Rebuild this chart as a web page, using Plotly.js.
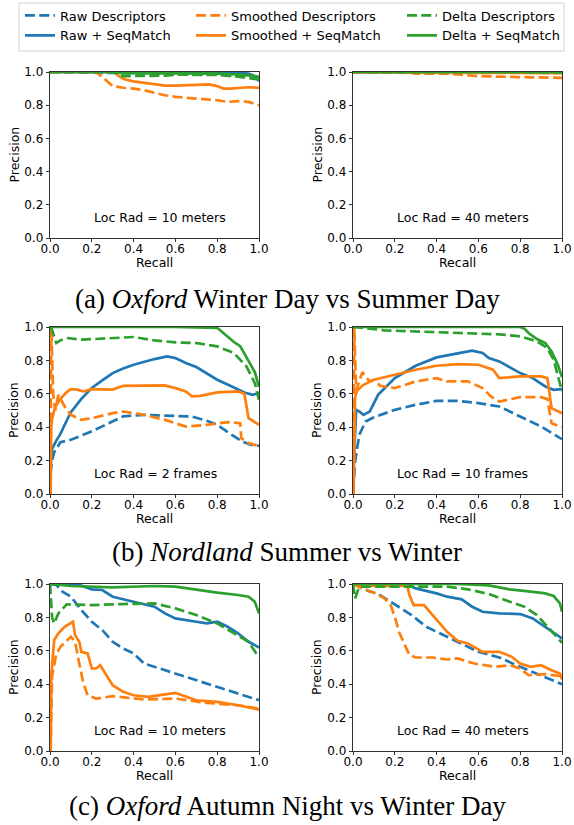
<!DOCTYPE html>
<html>
<head>
<meta charset="utf-8">
<script src="https://cdn.plot.ly/plotly-3.0.1.min.js"></script>
<style>html,body{margin:0;padding:0;background:#fff;}#chart{width:574px;height:825px;}</style>
</head>
<body>
<div id="chart"></div>
<script>
// ---------- labels ----------
const seriesNames = ['Raw Descriptors', 'Raw + SeqMatch', 'Smoothed Descriptors', 'Smoothed + SeqMatch', 'Delta Descriptors', 'Delta + SeqMatch'];
const tickVals = [0, 0.2, 0.4, 0.6, 0.8, 1.0];
const tickText = ['0.0', '0.2', '0.4', '0.6', '0.8', '1.0'];
const panelLabels = ['Loc Rad = 10 meters', 'Loc Rad = 40 meters', 'Loc Rad = 2 frames', 'Loc Rad = 10 frames', 'Loc Rad = 10 meters', 'Loc Rad = 40 meters'];
const captions = ['(a) <i>Oxford</i> Winter Day vs Summer Day', '(b) <i>Nordland</i> Summer vs Winter', '(c) <i>Oxford</i> Autumn Night vs Winter Day'];

// ---------- (a) left: Oxford Winter Day vs Summer Day, 10 m ----------
const aL_rawDesc_r = [0, 0.3, 0.6, 0.8, 0.9, 1.0];
const aL_rawDesc_p = [1, 0.995, 0.99, 0.985, 0.98, 0.97];
const aL_rawSM_r = [0, 0.5, 0.8, 0.9, 0.95, 0.98, 1.0];
const aL_rawSM_p = [1, 1, 0.998, 0.995, 0.99, 0.975, 0.945];
const aL_smDesc_r = [0, 0.22, 0.25, 0.28, 0.3, 0.35, 0.4, 0.45, 0.5, 0.55, 0.6, 0.7, 0.8, 0.85, 0.9, 0.95, 1.0];
const aL_smDesc_p = [1, 1, 0.97, 0.935, 0.915, 0.905, 0.9, 0.89, 0.875, 0.86, 0.85, 0.84, 0.83, 0.82, 0.825, 0.82, 0.80];
const aL_smSM_r = [0, 0.31, 0.33, 0.36, 0.4, 0.45, 0.5, 0.55, 0.6, 0.7, 0.76, 0.8, 0.83, 0.86, 0.9, 0.95, 1.0];
const aL_smSM_p = [1, 1, 0.975, 0.955, 0.944, 0.935, 0.925, 0.918, 0.918, 0.92, 0.925, 0.915, 0.9, 0.9, 0.905, 0.908, 0.905];
const aL_deltaDesc_r = [0, 0.3, 0.35, 0.45, 0.55, 0.6, 0.8, 0.9, 0.95, 1.0];
const aL_deltaDesc_p = [1, 1, 0.975, 0.975, 0.978, 0.984, 0.982, 0.972, 0.965, 0.955];
const aL_deltaSM_r = [0, 0.3, 0.35, 0.6, 0.8, 0.9, 0.95, 1.0];
const aL_deltaSM_p = [1, 1, 0.993, 0.992, 0.99, 0.985, 0.98, 0.97];

// ---------- (a) right: 40 m ----------
const aR_rawDesc_r = [0, 0.5, 1.0];
const aR_rawDesc_p = [1, 0.998, 0.995];
const aR_rawSM_r = [0, 1.0];
const aR_rawSM_p = [1, 1];
const aR_smDesc_r = [0, 0.25, 0.3, 0.45, 0.5, 0.55, 0.6, 0.7, 0.8, 0.85, 0.9, 0.95, 1.0];
const aR_smDesc_p = [1, 1, 0.99, 0.99, 0.985, 0.978, 0.975, 0.972, 0.97, 0.968, 0.97, 0.97, 0.965];
const aR_smSM_r = [0, 0.5, 1.0];
const aR_smSM_p = [0.997, 0.995, 0.993];
const aR_deltaDesc_r = [0, 0.5, 1.0];
const aR_deltaDesc_p = [1, 0.999, 0.998];
const aR_deltaSM_r = [0, 1.0];
const aR_deltaSM_p = [1, 1];

// ---------- (b) left: Nordland, 2 frames ----------
const bL_rawDesc_r = [0.002, 0.01, 0.02, 0.05, 0.1, 0.15, 0.2, 0.25, 0.3, 0.35, 0.45, 0.55, 0.6, 0.68, 0.75, 0.8, 0.87, 0.92, 0.96, 1.0];
const bL_rawDesc_p = [0.12, 0.2, 0.25, 0.31, 0.325, 0.35, 0.375, 0.405, 0.434, 0.465, 0.474, 0.47, 0.468, 0.464, 0.438, 0.414, 0.354, 0.314, 0.295, 0.288];
const bL_rawSM_r = [0.002, 0.01, 0.03, 0.05, 0.08, 0.1, 0.15, 0.2, 0.25, 0.3, 0.35, 0.4, 0.5, 0.56, 0.6, 0.65, 0.7, 0.75, 0.8, 0.87, 0.93, 0.97, 1.0];
const bL_rawSM_p = [0.15, 0.27, 0.32, 0.36, 0.44, 0.49, 0.57, 0.635, 0.68, 0.724, 0.752, 0.774, 0.808, 0.824, 0.814, 0.784, 0.76, 0.72, 0.684, 0.644, 0.608, 0.594, 0.604];
const bL_smDesc_r = [0.002, 0.006, 0.015, 0.025, 0.04, 0.07, 0.1, 0.15, 0.2, 0.3, 0.35, 0.45, 0.55, 0.6, 0.65, 0.75, 0.85, 0.91, 0.915, 0.95, 1.0];
const bL_smDesc_p = [0.0, 1.0, 0.6, 0.5, 0.594, 0.524, 0.474, 0.444, 0.454, 0.484, 0.494, 0.474, 0.444, 0.424, 0.404, 0.414, 0.43, 0.424, 0.334, 0.304, 0.288];
const bL_smSM_r = [0.003, 0.006, 0.01, 0.02, 0.03, 0.05, 0.08, 0.1, 0.13, 0.16, 0.2, 0.25, 0.3, 0.35, 0.45, 0.5, 0.55, 0.6, 0.65, 0.68, 0.72, 0.8, 0.9, 0.93, 0.95, 1.0];
const bL_smSM_p = [0.0, 0.4, 0.45, 0.5, 0.53, 0.57, 0.61, 0.628, 0.625, 0.614, 0.628, 0.625, 0.625, 0.648, 0.65, 0.648, 0.65, 0.634, 0.614, 0.584, 0.588, 0.608, 0.614, 0.6, 0.454, 0.414];
const bL_deltaDesc_r = [0.005, 0.01, 0.02, 0.03, 0.05, 0.08, 0.15, 0.3, 0.4, 0.5, 0.6, 0.7, 0.8, 0.88, 0.94, 0.98, 1.0];
const bL_deltaDesc_p = [1.0, 0.98, 0.93, 0.904, 0.92, 0.934, 0.924, 0.936, 0.94, 0.92, 0.908, 0.904, 0.884, 0.844, 0.764, 0.664, 0.564];
const bL_deltaSM_r = [0, 0.6, 0.8, 0.84, 0.88, 0.91, 0.95, 0.98, 1.0];
const bL_deltaSM_p = [1, 1, 0.995, 0.95, 0.91, 0.885, 0.8, 0.73, 0.64];

// ---------- (b) right: 10 frames ----------
const bR_rawDesc_r = [0.005, 0.01, 0.03, 0.06, 0.1, 0.2, 0.3, 0.4, 0.5, 0.6, 0.7, 0.8, 0.9, 1.0];
const bR_rawDesc_p = [0.1, 0.194, 0.354, 0.434, 0.46, 0.504, 0.534, 0.558, 0.558, 0.544, 0.524, 0.464, 0.404, 0.328];
const bR_rawSM_r = [0.004, 0.008, 0.015, 0.03, 0.05, 0.08, 0.12, 0.2, 0.3, 0.4, 0.5, 0.57, 0.62, 0.65, 0.7, 0.8, 0.86, 0.92, 0.96, 1.0];
const bR_rawSM_p = [0.19, 0.35, 0.504, 0.494, 0.474, 0.494, 0.594, 0.694, 0.768, 0.818, 0.844, 0.858, 0.844, 0.814, 0.794, 0.724, 0.694, 0.644, 0.624, 0.628];
const bR_smDesc_r = [0.003, 0.006, 0.015, 0.03, 0.045, 0.06, 0.08, 0.1, 0.13, 0.2, 0.3, 0.4, 0.45, 0.55, 0.62, 0.66, 0.7, 0.8, 0.9, 0.93, 0.95, 1.0];
const bR_smDesc_p = [0.0, 1.0, 0.62, 0.68, 0.73, 0.704, 0.674, 0.684, 0.648, 0.634, 0.674, 0.694, 0.674, 0.674, 0.634, 0.584, 0.554, 0.58, 0.58, 0.568, 0.424, 0.40];
const bR_smSM_r = [0.003, 0.006, 0.01, 0.02, 0.05, 0.1, 0.2, 0.3, 0.4, 0.5, 0.6, 0.67, 0.7, 0.8, 0.9, 0.93, 0.95, 1.0];
const bR_smSM_p = [0.0, 0.5, 0.58, 0.62, 0.654, 0.684, 0.714, 0.744, 0.768, 0.778, 0.774, 0.744, 0.694, 0.704, 0.704, 0.694, 0.514, 0.484];
const bR_deltaDesc_r = [0, 0.05, 0.15, 0.3, 0.5, 0.7, 0.8, 0.88, 0.93, 0.96, 1.0];
const bR_deltaDesc_p = [1.0, 0.995, 0.98, 0.974, 0.968, 0.956, 0.944, 0.914, 0.874, 0.804, 0.614];
const bR_deltaSM_r = [0, 0.8, 0.82, 0.84, 0.88, 0.92, 0.95, 0.98, 1.0];
const bR_deltaSM_p = [1, 1, 0.99, 0.964, 0.928, 0.904, 0.854, 0.774, 0.70];

// ---------- (c) left: Oxford Autumn Night vs Winter Day, 10 m ----------
const cL_rawDesc_r = [0, 0.03, 0.06, 0.1, 0.15, 0.2, 0.25, 0.3, 0.35, 0.4, 0.45, 0.5, 0.6, 0.7, 0.8, 0.9, 1.0];
const cL_rawDesc_p = [1, 0.995, 0.954, 0.924, 0.844, 0.774, 0.724, 0.654, 0.614, 0.584, 0.524, 0.504, 0.464, 0.424, 0.384, 0.344, 0.304];
const cL_rawSM_r = [0, 0.1, 0.15, 0.2, 0.25, 0.3, 0.4, 0.5, 0.55, 0.6, 0.7, 0.75, 0.8, 0.85, 0.9, 0.95, 1.0];
const cL_rawSM_p = [1, 1, 0.99, 0.968, 0.964, 0.924, 0.894, 0.864, 0.824, 0.794, 0.774, 0.764, 0.774, 0.744, 0.704, 0.654, 0.62];
const cL_smDesc_r = [0.003, 0.01, 0.03, 0.05, 0.1, 0.12, 0.14, 0.16, 0.18, 0.22, 0.3, 0.45, 0.6, 0.75, 0.9, 1.0];
const cL_smDesc_p = [0.0, 0.45, 0.58, 0.624, 0.684, 0.654, 0.524, 0.404, 0.334, 0.314, 0.328, 0.308, 0.314, 0.288, 0.274, 0.254];
const cL_smSM_r = [0.003, 0.006, 0.02, 0.04, 0.07, 0.1, 0.11, 0.12, 0.14, 0.15, 0.18, 0.2, 0.22, 0.24, 0.26, 0.3, 0.35, 0.4, 0.47, 0.55, 0.6, 0.7, 0.8, 0.9, 1.0];
const cL_smSM_p = [0.0, 0.45, 0.664, 0.704, 0.744, 0.764, 0.774, 0.694, 0.654, 0.594, 0.584, 0.494, 0.494, 0.514, 0.474, 0.394, 0.354, 0.334, 0.324, 0.34, 0.348, 0.304, 0.294, 0.274, 0.248];
const cL_deltaDesc_r = [0, 0.01, 0.02, 0.04, 0.08, 0.2, 0.35, 0.5, 0.6, 0.7, 0.8, 0.9, 0.95, 1.0];
const cL_deltaDesc_p = [1.0, 0.8, 0.764, 0.824, 0.878, 0.874, 0.88, 0.884, 0.854, 0.814, 0.764, 0.694, 0.654, 0.56];
const cL_deltaSM_r = [0, 0.1, 0.3, 0.5, 0.6, 0.7, 0.8, 0.9, 0.95, 0.98, 1.0];
const cL_deltaSM_p = [1, 0.988, 0.98, 0.988, 0.984, 0.964, 0.948, 0.934, 0.924, 0.894, 0.824];

// ---------- (c) right: 40 m ----------
const cR_rawDesc_r = [0, 0.03, 0.07, 0.12, 0.18, 0.22, 0.28, 0.35, 0.42, 0.5, 0.6, 0.7, 0.8, 0.9, 1.0];
const cR_rawDesc_p = [1, 0.994, 0.96, 0.94, 0.894, 0.86, 0.814, 0.744, 0.704, 0.654, 0.594, 0.56, 0.504, 0.454, 0.40];
const cR_rawSM_r = [0, 0.25, 0.3, 0.4, 0.45, 0.52, 0.57, 0.62, 0.7, 0.8, 0.86, 0.9, 0.95, 1.0];
const cR_rawSM_p = [1, 1, 0.974, 0.944, 0.924, 0.908, 0.864, 0.834, 0.824, 0.82, 0.794, 0.76, 0.714, 0.674];
const cR_smDesc_r = [0, 0.03, 0.1, 0.15, 0.18, 0.2, 0.22, 0.25, 0.27, 0.3, 0.38, 0.45, 0.5, 0.58, 0.68, 0.75, 0.8, 0.84, 0.92, 1.0];
const cR_smDesc_p = [1, 0.98, 0.948, 0.914, 0.874, 0.804, 0.714, 0.624, 0.574, 0.56, 0.56, 0.548, 0.554, 0.524, 0.504, 0.514, 0.494, 0.454, 0.46, 0.448];
const cR_smSM_r = [0, 0.05, 0.15, 0.26, 0.27, 0.29, 0.34, 0.38, 0.42, 0.45, 0.5, 0.55, 0.62, 0.7, 0.76, 0.8, 0.85, 0.9, 0.95, 0.99, 1.0];
const cR_smSM_p = [1, 0.99, 0.988, 0.99, 0.934, 0.874, 0.874, 0.814, 0.754, 0.714, 0.66, 0.644, 0.594, 0.594, 0.564, 0.524, 0.504, 0.514, 0.484, 0.464, 0.43];
const cR_deltaDesc_r = [0, 0.01, 0.03, 0.45, 0.55, 0.65, 0.75, 0.82, 0.88, 0.93, 0.97, 1.0];
const cR_deltaDesc_p = [1.0, 0.914, 0.984, 0.984, 0.968, 0.94, 0.894, 0.864, 0.814, 0.744, 0.684, 0.648];
const cR_deltaSM_r = [0, 0.5, 0.65, 0.75, 0.85, 0.92, 0.96, 0.99, 1.0];
const cR_deltaSM_p = [1, 1, 0.992, 0.968, 0.954, 0.944, 0.928, 0.884, 0.834];

// ---------- build ----------
const W = 574, H = 825;
const px = v => v / W;
const py = v => 1 - v / H;

const colors = ['#1f77b4', '#1f77b4', '#ff7f0e', '#ff7f0e', '#2ca02c', '#2ca02c'];
const dashes = ['10px,4.3px', 'solid', '10px,4.3px', 'solid', '10px,4.3px', 'solid'];
const legendIds = ['legend', 'legend', 'legend2', 'legend2', 'legend3', 'legend3'];

const panelSeries = [
  [[aL_rawDesc_r, aL_rawDesc_p], [aL_rawSM_r, aL_rawSM_p], [aL_smDesc_r, aL_smDesc_p], [aL_smSM_r, aL_smSM_p], [aL_deltaDesc_r, aL_deltaDesc_p], [aL_deltaSM_r, aL_deltaSM_p]],
  [[aR_rawDesc_r, aR_rawDesc_p], [aR_rawSM_r, aR_rawSM_p], [aR_smDesc_r, aR_smDesc_p], [aR_smSM_r, aR_smSM_p], [aR_deltaDesc_r, aR_deltaDesc_p], [aR_deltaSM_r, aR_deltaSM_p]],
  [[bL_rawDesc_r, bL_rawDesc_p], [bL_rawSM_r, bL_rawSM_p], [bL_smDesc_r, bL_smDesc_p], [bL_smSM_r, bL_smSM_p], [bL_deltaDesc_r, bL_deltaDesc_p], [bL_deltaSM_r, bL_deltaSM_p]],
  [[bR_rawDesc_r, bR_rawDesc_p], [bR_rawSM_r, bR_rawSM_p], [bR_smDesc_r, bR_smDesc_p], [bR_smSM_r, bR_smSM_p], [bR_deltaDesc_r, bR_deltaDesc_p], [bR_deltaSM_r, bR_deltaSM_p]],
  [[cL_rawDesc_r, cL_rawDesc_p], [cL_rawSM_r, cL_rawSM_p], [cL_smDesc_r, cL_smDesc_p], [cL_smSM_r, cL_smSM_p], [cL_deltaDesc_r, cL_deltaDesc_p], [cL_deltaSM_r, cL_deltaSM_p]],
  [[cR_rawDesc_r, cR_rawDesc_p], [cR_rawSM_r, cR_rawSM_p], [cR_smDesc_r, cR_smDesc_p], [cR_smSM_r, cR_smSM_p], [cR_deltaDesc_r, cR_deltaDesc_p], [cR_deltaSM_r, cR_deltaSM_p]]
];

// plot-area pixel boxes (left, right, top, bottom)
const colX = [[50, 259], [353, 562]];
const rowY = [[72, 238], [327, 494], [584, 751]];

const traces = [];
const layout = {
  width: W, height: H,
  margin: {l: 0, r: 0, t: 0, b: 0},
  paper_bgcolor: '#ffffff', plot_bgcolor: '#ffffff',
  font: {family: 'DejaVu Sans', size: 12, color: '#000000'},
  showlegend: true,
  annotations: [], shapes: []
};

const baseAxis = {
  range: [0, 1], tickmode: 'array', tickvals: tickVals, ticktext: tickText,
  ticks: 'outside', ticklen: 3.5, tickwidth: 0.8, tickcolor: '#000',
  showline: true, mirror: true, linecolor: '#000', linewidth: 0.8,
  showgrid: false, zeroline: false, fixedrange: true,
  tickfont: {family: 'DejaVu Sans', size: 12, color: '#000'}
};

for (let k = 0; k < 6; k++) {
  const row = Math.floor(k / 2), col = k % 2;
  const n = k + 1;
  const xa = 'xaxis' + (n === 1 ? '' : n), ya = 'yaxis' + (n === 1 ? '' : n);
  const xr = 'x' + (n === 1 ? '' : n), yr = 'y' + (n === 1 ? '' : n);
  layout[xa] = Object.assign({}, baseAxis, {domain: [px(colX[col][0]), px(colX[col][1])], anchor: yr, ticklabelstandoff: -4});
  layout[ya] = Object.assign({}, baseAxis, {domain: [py(rowY[row][1]), py(rowY[row][0])], anchor: xr});

  panelSeries[k].forEach((s, i) => {
    traces.push({
      type: 'scatter', mode: 'lines', x: s[0], y: s[1],
      xaxis: xr, yaxis: yr, name: seriesNames[i],
      line: {color: colors[i], width: 2.7, dash: dashes[i]},
      showlegend: k === 0, legend: legendIds[i], hoverinfo: 'skip'
    });
  });

  // in-panel label
  layout.annotations.push({
    xref: xr, yref: yr, x: 0.2, y: 0.125, xanchor: 'left', yanchor: 'middle',
    text: panelLabels[k], showarrow: false, font: {family: 'DejaVu Sans', size: 12.5, color: '#000'}
  });
  // axis titles
  const cx = (colX[col][0] + colX[col][1]) / 2;
  const cy = (rowY[row][0] + rowY[row][1]) / 2;
  layout.annotations.push({
    xref: 'paper', yref: 'paper', x: px(cx), y: py(rowY[row][1] + 24.5), xanchor: 'center', yanchor: 'middle',
    text: 'Recall', showarrow: false, font: {family: 'DejaVu Sans', size: 12.5, color: '#000'}
  });
  layout.annotations.push({
    xref: 'paper', yref: 'paper', x: px(colX[col][0] - 36.5), y: py(cy), xanchor: 'center', yanchor: 'middle',
    text: 'Precision', textangle: -90, showarrow: false, font: {family: 'DejaVu Sans', size: 12.5, color: '#000'}
  });
}

// captions
const captionY = [299, 552, 806];
captions.forEach((c, i) => {
  layout.annotations.push({
    xref: 'paper', yref: 'paper', x: 0.5, y: py(captionY[i]), xanchor: 'center', yanchor: 'middle',
    text: c, showarrow: false, font: {family: 'Liberation Serif', size: 27, color: '#000'}
  });
});

// legends (three columns)
const legCommon = {
  orientation: 'v', yanchor: 'top', xanchor: 'left', y: py(0.5),
  bgcolor: 'rgba(0,0,0,0)', borderwidth: 0, itemwidth: 30, tracegroupgap: 0,
  font: {family: 'DejaVu Sans', size: 13, color: '#000'}
};
layout.legend = Object.assign({}, legCommon, {x: px(20)});
layout.legend2 = Object.assign({}, legCommon, {x: px(191)});
layout.legend3 = Object.assign({}, legCommon, {x: px(402)});

// legend frame
layout.shapes.push({
  type: 'rect', xref: 'paper', yref: 'paper',
  x0: px(19), x1: px(564), y0: py(51), y1: py(3),
  line: {color: '#d3d3d3', width: 1}, fillcolor: 'rgba(0,0,0,0)', layer: 'below'
});

Plotly.newPlot('chart', traces, layout, {staticPlot: true, displayModeBar: false});
</script>
</body>
</html>
